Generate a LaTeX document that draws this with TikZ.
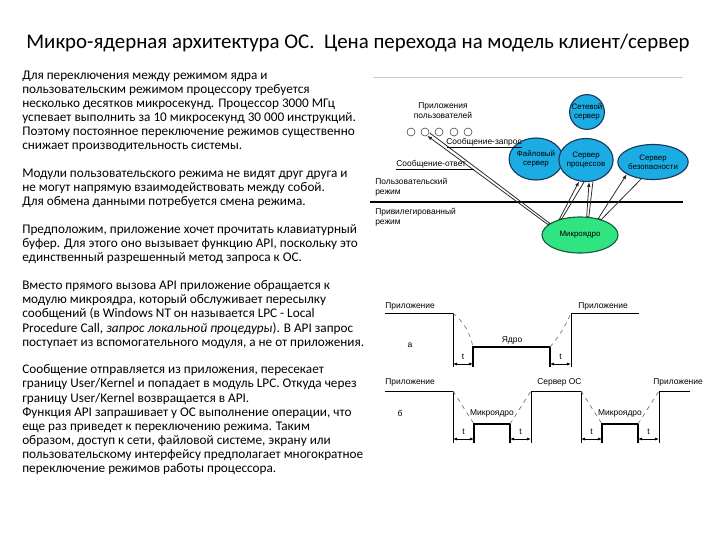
\documentclass[tikz,border=0pt]{standalone}
\usepackage{fontspec}
\setmainfont{Carlito}
\newfontfamily\dfont{Liberation Sans}
\usetikzlibrary{positioning,shapes.geometric,arrows.meta,calc}
\definecolor{srvblue}{RGB}{28,172,228}
\definecolor{srvline}{RGB}{25,55,95}
\definecolor{kgreen}{RGB}{48,228,130}
\definecolor{kline}{RGB}{20,95,55}
\definecolor{slopegray}{RGB}{120,120,120}

\begin{document}
\begin{tikzpicture}[x=0.025cm,y=-0.025cm,
    para/.style={anchor=north west, align=left, inner sep=0pt, font=\fontsize{9.4}{9.96}\selectfont},
    lbl/.style={inner sep=0pt, align=left, font=\dfont\fontsize{6}{7}\selectfont},
    srv/.style={ellipse, draw=srvline, line width=0.8pt, fill=srvblue, inner sep=0pt, align=center, font=\dfont\fontsize{5.6}{6.6}\selectfont},
    app/.style={circle, draw=black!75, fill=white, minimum size=0.2cm, inner sep=0pt},
    pair/.style={-{Latex[length=3.5pt,width=2.6pt]}, black!85, line width=0.55pt},
    hi/.style={line width=0.7pt},
    lo/.style={line width=1.1pt},
    slope/.style={dashed, slopegray, line width=0.5pt},
    dim/.style={{Latex[length=3pt,width=2.2pt]}-{Latex[length=3pt,width=2.2pt]}, line width=0.5pt}
  ]
  \useasboundingbox (0,0) rectangle (720,540);
  % title
  \node[font=\fontsize{14.85}{16}\selectfont] (title) at (358,43) {Микро-ядерная архитектура ОС.\ \ Цена перехода на модель клиент/сервер};

  % text column
  \node[para] (p1) at (22,70.7) {Для переключения между режимом ядра и\\
    пользовательским режимом процессору требуется\\
    несколько десятков микросекунд. Процессор 3000 МГц\\
    успевает выполнить за 10 микросекунд 30 000 инструкций.\\
    Поэтому постоянное переключение режимов существенно\\
    снижает производительность системы.};
  \node[para] (p2) at (22,168.7) {Модули пользовательского режима не видят друг друга и\\
    не могут напрямую взаимодействовать между собой.\\
    Для обмена данными потребуется смена режима.};
  \node[para] (p3) at (22,224.7) {Предположим, приложение хочет прочитать клавиатурный\\
    буфер. Для этого оно вызывает функцию API, поскольку это\\
    единственный разрешенный метод запроса к ОС.};
  \node[para] (p4) at (22,280.7) {Вместо прямого вызова API приложение обращается к\\
    модулю микроядра, который обслуживает пересылку\\
    сообщений (в Windows NT он называется LPC - Local\\
    Procedure Call, \textit{запрос локальной процедуры}). В API запрос\\
    поступает из вспомогательного модуля, а не от приложения.};
  \node[para] (p5) at (22,364.7) {Сообщение отправляется из приложения, пересекает\\
    границу User/Kernel и попадает в модуль LPC. Откуда через\\
    границу User/Kernel возвращается в API.\\
    Функция API запрашивает у ОС выполнение операции, что\\
    еще раз приведет к переключению режима. Таким\\
    образом, доступ к сети, файловой системе, экрану или\\
    пользовательскому интерфейсу предполагает многократное\\
    переключение режимов работы процессора.};

  % client/server figure
  \draw[black!20, line width=0.6pt] (373,77) -- (683,77);
  \node[lbl, align=center] (apps) at (443,111) {Приложения\\пользователей};
  \foreach \i/\x in {1/411,2/425,3/439,4/454,5/468}
    \node[app] (a\i) at (\x,132) {};
  \node[srv, circle, minimum size=0.825cm] (net) at (587,112) {Сетевой\\сервер};
  \node[srv, minimum width=1.125cm, minimum height=1.05cm] (fs) at (536,159) {Файловый\\сервер};
  \node[srv, minimum width=1.125cm, minimum height=1.075cm] (proc) at (586,160) {Сервер\\процессов};
  \node[srv, minimum width=1.475cm, minimum height=0.875cm] (sec) at (653,162) {Сервер\\безопасности};
  \node[srv, fill=kgreen, draw=kline, minimum width=1.9cm, minimum height=0.9cm] (mk) at (580,235) {Микроядро};
  \draw[line width=0.9pt] (370,202) -- (683,202);
  \node[lbl, anchor=north west] (umode) at (375,178) {Пользовательский\\ режим};
  \node[lbl, anchor=north west] (kmode) at (375,208) {Привилегированный\\режим};

  % message pairs
  \draw[pair] ($(a2.-60)+(3,-2.5)$) -- (mk.159) -- (mk.162) -- (a2.-60);
  \draw[pair] (proc.-95) -- (mk.138) -- (mk.143) -- (proc.-108);
  \draw[pair] (proc.-72) -- (mk.64) -- (mk.70) -- (proc.-82);
  \draw[pair] (sec.-125) -- (mk.36) -- (mk.42) -- (sec.-155);
  \node[lbl, anchor=west] (req) at (446,142) {Сообщение-запрос};
  \node[lbl, anchor=west] (resp) at (396,164) {Сообщение-ответ};
  \coordinate (reqend) at ($(mk.159)!0.86!($(a2.-60)+(3,-2.5)$)$);
  \coordinate (respend) at ($(mk.162)!0.61!(a2.-60)$);
  \draw[line width=0.5pt] ([yshift=-1pt]req.south east) -- ([yshift=-1pt]req.south east -| reqend);
  \draw[line width=0.5pt] ([yshift=-1pt]resp.south west) -- ([yshift=-1pt]resp.south west -| respend);

  % timing a
  \node[lbl, anchor=west] (ta1) at (385,306) {Приложение};
  \node[lbl, anchor=west] (ta2) at (578,306) {Приложение};
  \node[lbl] (tak) at (512,340) {Ядро};
  \node[lbl] (tam) at (410,345) {а};
  \draw[hi] (385,313) -- (453,313) -- (453,367);
  \draw[lo] (473,367) -- (473,347) -- (550,347) -- (550,367);
  \draw[hi] (571,367) -- (571,313) -- (639,313);
  \draw[slope] (453,313) to[bend left=18] (473,347);
  \draw[slope] (550,347) to[bend right=8] (571,313);
  \draw[dim] (453,364) -- node[lbl, above=3pt] (tt1) {t} (473,364);
  \draw[dim] (550,364) -- node[lbl, above=3pt] (tt2) {t} (571,364);

  % timing b
  \node[lbl, anchor=west] (tb1) at (385,382) {Приложение};
  \node[lbl, anchor=west] (tb2) at (537,382) {Сервер ОС};
  \node[lbl, anchor=west] (tb3) at (653,382) {Приложение};
  \node[lbl] (tbk1) at (492,413) {Микроядро};
  \node[lbl] (tbk2) at (620,413) {Микроядро};
  \node[lbl] (tbm) at (400,413) {б};
  \draw[hi] (385,391) -- (453,391) -- (453,443);
  \draw[lo] (474,443) -- (474,424) -- (510,424) -- (510,443);
  \draw[hi] (531,443) -- (531,391) -- (581,391) -- (581,443);
  \draw[lo] (602,443) -- (602,424) -- (638,424) -- (638,443);
  \draw[hi] (659,443) -- (659,391) -- (690,391);
  \draw[slope] (453,391) -- (474,424);
  \draw[slope] (510,424) -- (531,391);
  \draw[slope] (581,391) -- (602,424);
  \draw[slope] (638,424) -- (659,391);
  \foreach \a/\b in {453/474,510/531,581/602,638/659}
    \draw[dim] (\a,439) -- node[lbl, above=3pt] {t} (\b,439);
\end{tikzpicture}
\end{document}
